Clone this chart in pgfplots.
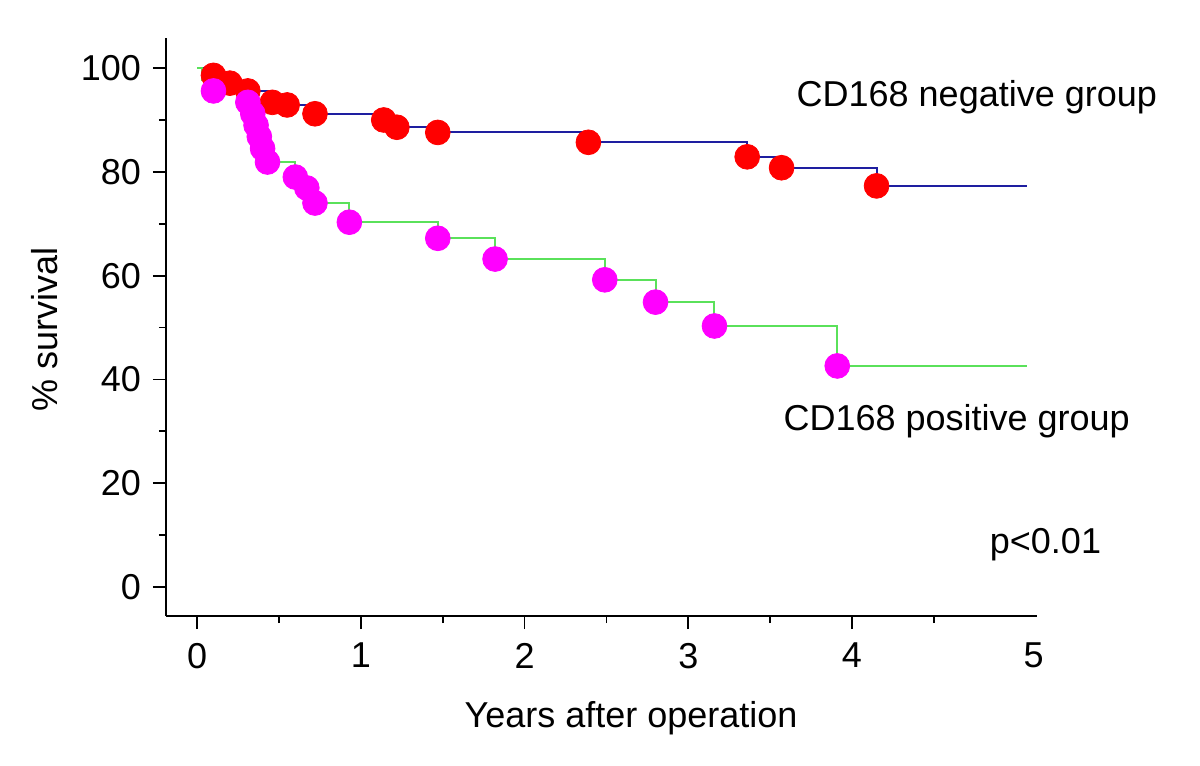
\documentclass[border=0pt]{standalone}
\usepackage{fontspec}
\setmainfont{Liberation Sans}
\usepackage{pgfplots}
\pgfplotsset{compat=1.18}
\definecolor{kmred}{RGB}{255,0,0}
\definecolor{kmmag}{RGB}{255,0,255}
\definecolor{kmblue}{RGB}{30,30,160}
\definecolor{kmgreen}{RGB}{90,225,90}
\begin{document}
\begin{tikzpicture}
\begin{axis}[
  at={(0pt,0pt)}, anchor=south west,
  scale only axis, width=435.5pt, height=289pt,
  xmin=-0.19, xmax=5.13, ymin=-5.59, ymax=105.8,
  axis x line*=bottom, axis y line*=left,
  axis line style={-, line width=0.9pt},
  tick align=outside,
  xtick={0,1,2,3,4}, ytick={0,20,40,60,80,100},
  minor xtick={0.5,1.5,2.5,3.5,4.5}, minor ytick={10,30,50,70,90},
  major tick length=6.5pt, minor tick length=3.5pt,
  tick style={black, line width=0.9pt},
  extra x ticks={5.11}, extra x tick labels={5},
  extra x tick style={major tick length=0pt, xticklabel style={yshift=-6.5pt}},
  tick label style={font=\fontsize{18}{21.6}\selectfont},
  xticklabel style={yshift=-3.5pt},
  yticklabel style={xshift=-2.5pt},
  label style={font=\fontsize{18}{21.6}\selectfont},
  /pgf/number format/assume math mode=true,
  xlabel={Years after operation}, ylabel={\% survival},
  xlabel style={at={(axis description cs:0.534,-0.176)}, anchor=center},
  ylabel style={at={(axis description cs:-0.139,0.495)}, anchor=center},
  clip=false,
]
\addplot[const plot, kmblue, line width=1pt] coordinates {
 (0,100) (0.10,98.6) (0.20,97.1) (0.31,95.6) (0.46,93.4) (0.55,92.9)
 (0.72,91.2) (1.14,90.0) (1.22,88.6) (1.47,87.6) (2.39,85.7) (3.36,82.9)
 (3.57,80.8) (4.15,77.3) (5.07,77.3)};
\addplot[only marks, mark=*, mark size=6.2pt, color=kmred, mark options={fill=kmred, draw=kmred}] coordinates {
 (0.10,98.6) (0.20,97.1) (0.31,95.6) (0.46,93.4) (0.55,92.9)
 (0.72,91.2) (1.14,90.0) (1.22,88.6) (1.47,87.6) (2.39,85.7) (3.36,82.9)
 (3.57,80.8) (4.15,77.3)};
\addplot[const plot, kmgreen, line width=1pt] coordinates {
 (0,100) (0.03,97.8) (0.10,95.6) (0.31,93.4) (0.34,91.2) (0.36,89.0) (0.38,86.8)
 (0.40,84.5) (0.43,81.9) (0.60,79.0) (0.67,76.9) (0.72,74.0) (0.93,70.3)
 (1.47,67.2) (1.82,63.2) (2.49,59.2) (2.80,54.9) (3.16,50.3) (3.91,42.6) (5.07,42.6)};
\addplot[only marks, mark=*, mark size=6.2pt, color=kmmag, mark options={fill=kmmag, draw=kmmag}] coordinates {
 (0.10,95.6) (0.31,93.4) (0.34,91.2) (0.36,89.0) (0.38,86.8)
 (0.40,84.5) (0.43,81.9) (0.60,79.0) (0.67,76.9) (0.72,74.0) (0.93,70.3)
 (1.47,67.2) (1.82,63.2) (2.49,59.2) (2.80,54.9) (3.16,50.3) (3.91,42.6)};
\node[anchor=west, font=\fontsize{18}{21.6}\selectfont, inner sep=0pt] at (axis cs:3.66,94.4) {CD168 negative group};
\node[anchor=west, font=\fontsize{18}{21.6}\selectfont, inner sep=0pt] at (axis cs:3.58,32.0) {CD168 positive group};
\node[anchor=west, font=\fontsize{18}{21.6}\selectfont, inner sep=0pt] at (axis cs:4.84,8.1) {p<0.01};
\end{axis}
\pgfresetboundingbox
\path[use as bounding box] (-83pt,-75pt) rectangle (517pt,308pt);
\end{tikzpicture}
\end{document}
